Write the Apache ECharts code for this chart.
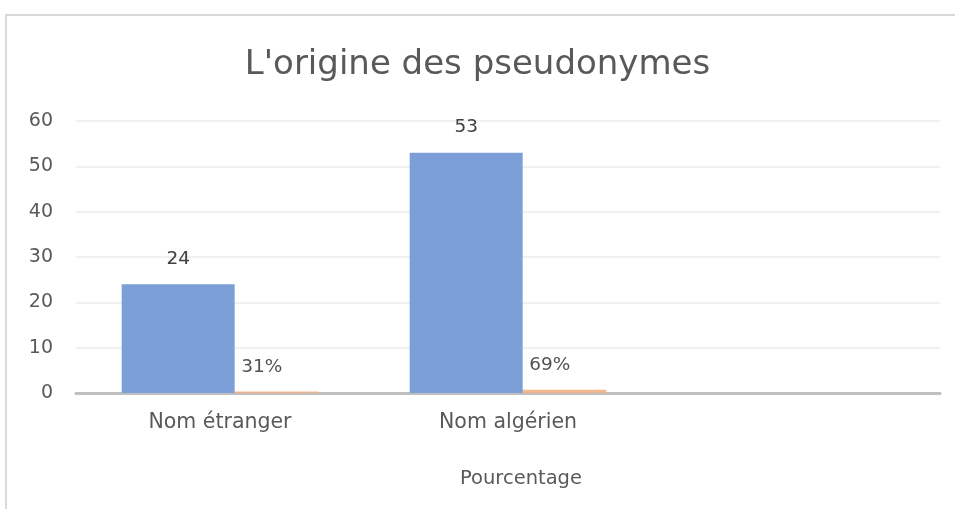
<!DOCTYPE html>
<html><head><meta charset="utf-8">
<script src="https://cdn.jsdelivr.net/npm/echarts@6/dist/echarts.min.js"></script>
<style>html,body{margin:0;padding:0;background:#fff}#c{width:955px;height:509px}</style>
</head><body><div id="c"></div>
<script>
const title = "L'origine des pseudonymes";
const categories = ["Nom étranger", "Nom algérien", ""];
const counts = [24, 53, null];
const percents = [0.31, 0.69, null];
const yTicks = [0, 10, 20, 30, 40, 50, 60];
const xName = "Pourcentage";

const font = "DejaVu Sans";
const chart = echarts.init(document.getElementById('c'), null, {renderer: 'canvas'});
chart.setOption({
  animation: false,
  backgroundColor: '#fff',
  graphic: [{
    type: 'polyline', silent: true,
    shape: {points: [[6, 530], [6, 15], [960, 15]]},
    style: {stroke: '#d9d9d9', lineWidth: 2, fill: null}
  }],
  title: {
    text: title, left: 'center', top: 43,
    textStyle: {fontFamily: font, fontSize: 34, fontWeight: 'normal', color: '#595959'}
  },
  grid: {left: 76, right: 15, top: 121, bottom: 116, containLabel: false},
  xAxis: {
    type: 'category', data: categories,
    name: xName, nameLocation: 'middle', nameGap: 76,
    nameTextStyle: {fontFamily: font, fontSize: 19.5, color: '#595959', padding: [0, 0, 0, 26]},
    axisLine: {lineStyle: {color: '#bfbfbf', width: 3}},
    axisTick: {show: false},
    axisLabel: {fontFamily: font, fontSize: 20.5, color: '#595959', margin: 19}
  },
  yAxis: {
    type: 'value', min: yTicks[0], max: yTicks[yTicks.length - 1], interval: 10,
    axisLine: {show: false}, axisTick: {show: false},
    splitLine: {lineStyle: {color: '#ededed', width: 1.5}},
    axisLabel: {fontFamily: font, fontSize: 19, color: '#595959', margin: 23}
  },
  series: [
    {
      type: 'bar', data: counts, barWidth: 113, barGap: '-26%',
      z: 3,
      itemStyle: {color: '#7b9fd6'},
      label: {show: true, position: 'top', distance: 16,
        fontFamily: font, fontSize: 18.5, color: '#404040'}
    },
    {
      type: 'bar', data: percents, barWidth: 113, barGap: '-26%',
      z: 2,
      itemStyle: {color: '#f4b183', opacity: 0.9},
      label: {show: true, position: 'top', distance: 15, formatter: p => Math.round(p.value * 100) + '%',
        fontFamily: font, fontSize: 18.5, color: '#404040'}
    }
  ]
});
</script></body></html>
